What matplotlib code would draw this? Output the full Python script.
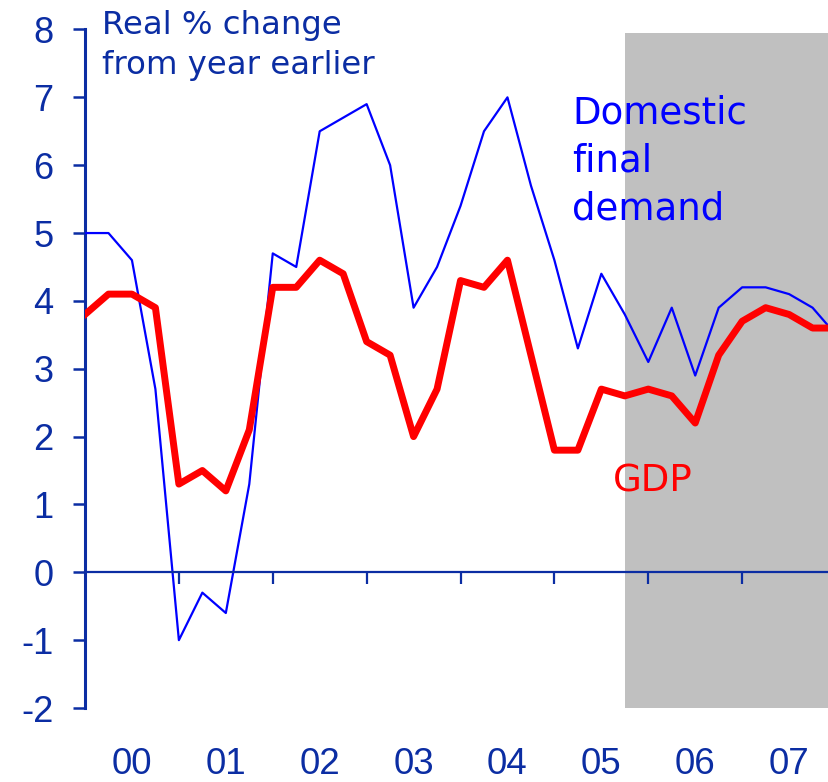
import matplotlib.pyplot as plt
import numpy as np

plt.rcParams['axes.unicode_minus'] = False

# quarterly data, 2000 Q1 onwards (real % change from year earlier)
gdp = [3.8, 4.1, 4.1, 3.9, 1.3, 1.5, 1.2, 2.1, 4.2, 4.2, 4.6, 4.4, 3.4, 3.2, 2.0, 2.7,
       4.3, 4.2, 4.6, 3.2, 1.8, 1.8, 2.7, 2.6, 2.7, 2.6, 2.2, 3.2, 3.7, 3.9, 3.8, 3.6, 3.6]
dfd = [5.0, 5.0, 4.6, 2.7, -1.0, -0.3, -0.6, 1.3, 4.7, 4.5, 6.5, 6.7, 6.9, 6.0, 3.9, 4.5,
       5.4, 6.5, 7.0, 5.7, 4.6, 3.3, 4.4, 3.8, 3.1, 3.9, 2.9, 3.9, 4.2, 4.2, 4.1, 3.9, 3.5]
years = ['00', '01', '02', '03', '04', '05', '06', '07']
forecast_start = 23   # quarter index where the shaded forecast begins
forecast_top = 7.95

dark = '#0B2DA3'
x = np.arange(len(gdp))

fig = plt.figure(figsize=(8.29, 7.82), dpi=100)
ax = fig.add_axes([85/829, 1 - 708/782, 1 - 85/829, (708 - 29.5)/782])

ax.set_xlim(0, 31.7)
ax.set_ylim(-2, 8)

ax.axvspan(forecast_start, 40, ymin=0, ymax=(forecast_top + 2)/10,
           color='#C0C0C0', lw=0, zorder=0)

ax.plot(x, dfd, color='#0000FF', lw=1.6, zorder=3)
ax.plot(x, gdp, color='#FF0000', lw=5, zorder=4)

# axes look
for s in ['top', 'right']:
    ax.spines[s].set_visible(False)
ax.spines['left'].set_color(dark)
ax.spines['left'].set_linewidth(2.2)
ax.spines['bottom'].set_position(('data', 0))
ax.spines['bottom'].set_color(dark)
ax.spines['bottom'].set_linewidth(1.6)
ax.spines['bottom'].set_zorder(5)

ax.set_yticks(range(-2, 9))
ax.tick_params(axis='y', direction='out', length=8.6, width=1.8, color=dark,
               labelcolor=dark, labelsize=26, pad=14)

ax.set_xticks(np.arange(4, 29, 4))
ax.set_xticks(np.arange(2, 31, 4), minor=True)
ax.set_xticklabels([''] * 7)
ax.set_xticklabels(years, minor=True)
ax.tick_params(axis='x', which='major', direction='out', length=8.6, width=1.6,
               color=dark)
ax.tick_params(axis='x', which='minor', length=0, pad=126, labelcolor=dark,
               labelsize=26.5)
for lab in ax.get_yticklabels() + ax.get_xticklabels(minor=True):
    lab.set_fontfamily('Liberation Sans')

# labels, placed by the baseline of their last line
fig.text(102/829, 1 - 74/782, 'Real % change\nfrom year earlier', color=dark,
         fontsize=23.3, va='baseline', ha='left', linespacing=1.36)
fig.text(572/829, 1 - 220/782, 'Domestic\nfinal\ndemand', color='#0000FF',
         fontsize=26.7, va='baseline', ha='left', linespacing=1.39)
fig.text(613/829, 1 - 492/782, 'GDP', color='#FF0000',
         fontsize=26.7, va='baseline', ha='left')

fig.savefig('out.png', dpi=100)
